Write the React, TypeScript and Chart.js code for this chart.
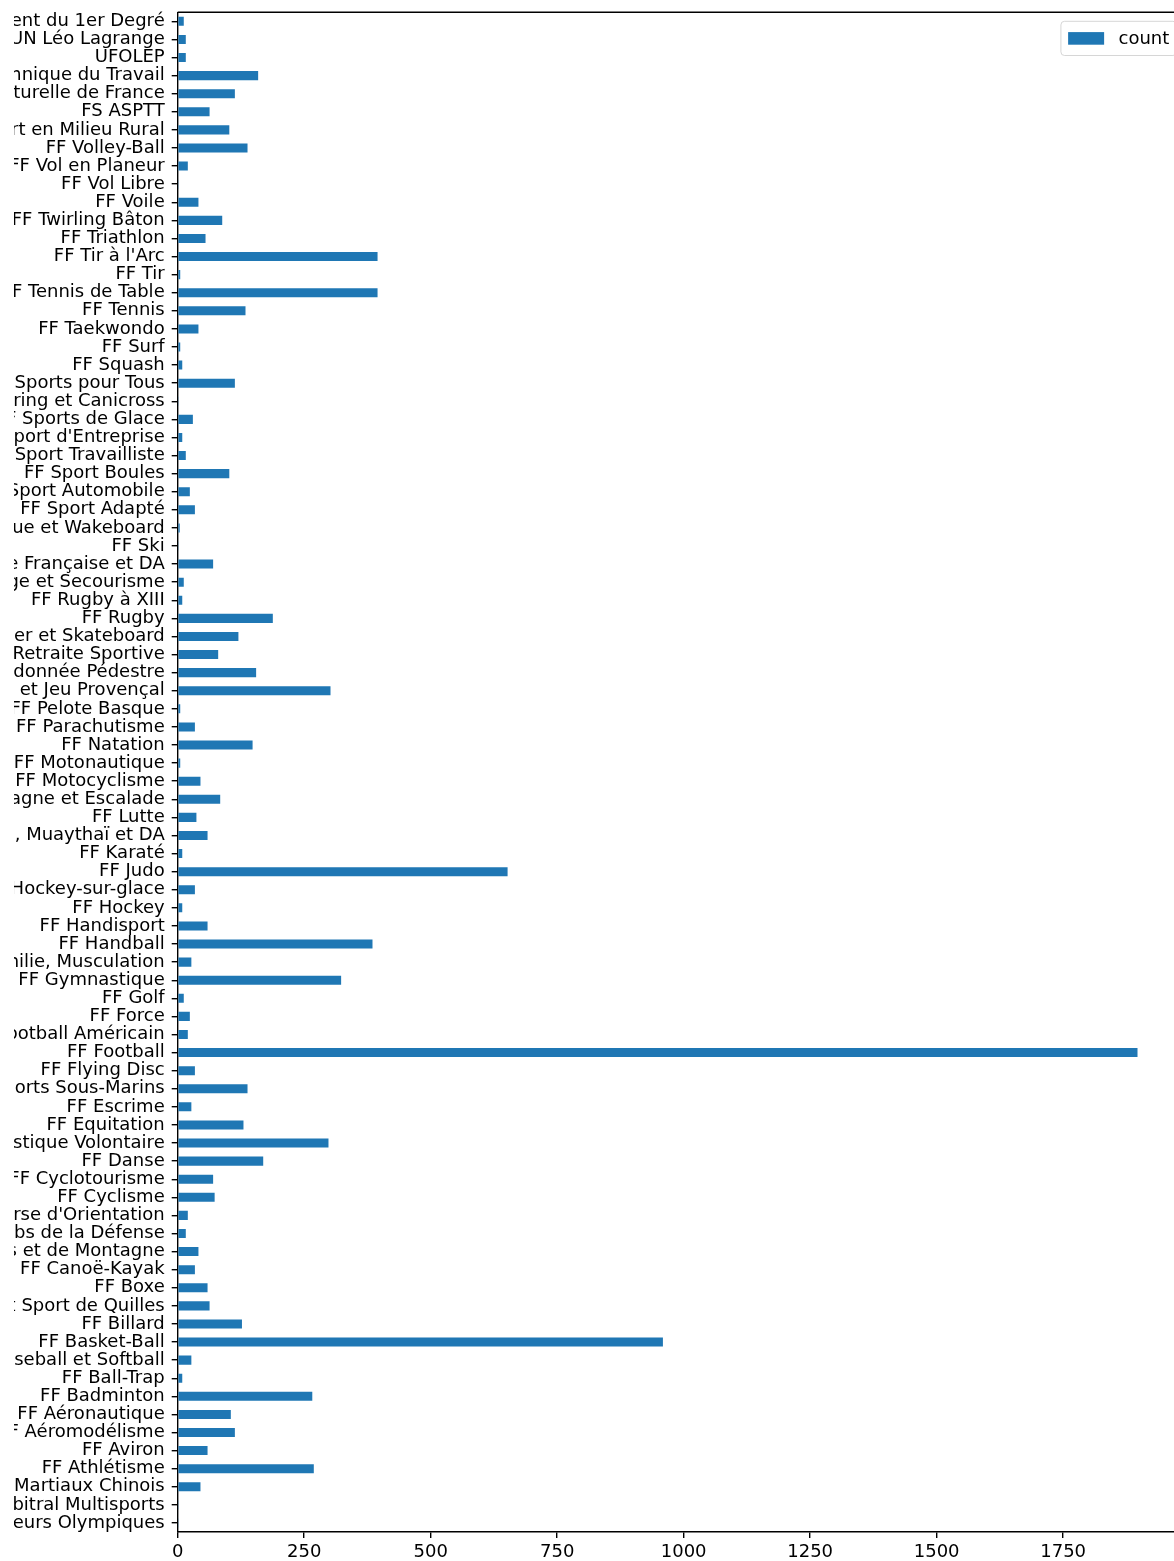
import React, { useEffect, useRef } from "react";
import { Chart, registerables } from "chart.js";

Chart.register(...registerables);

// Categories, listed top to bottom as they appear on the chart
const categories: string[] = [
  "Union Sportive de l'Enseignement du 1er Degré",
  "Fédération Nationale UN Léo Lagrange",
  "UFOLEP",
  "Fédération Sportive et Gymnique du Travail",
  "Fédération Sportive et Culturelle de France",
  "FS ASPTT",
  "FN du Sport en Milieu Rural",
  "FF Volley-Ball",
  "FF Vol en Planeur",
  "FF Vol Libre",
  "FF Voile",
  "FF Twirling Bâton",
  "FF Triathlon",
  "FF Tir à l'Arc",
  "FF Tir",
  "FF Tennis de Table",
  "FF Tennis",
  "FF Taekwondo",
  "FF Surf",
  "FF Squash",
  "FF Sports pour Tous",
  "FF Sports de Traîneau, Ski Joëring et Canicross",
  "FF Sports de Glace",
  "FF du Sport d'Entreprise",
  "FF Sport Travailliste",
  "FF Sport Boules",
  "FF Sport Automobile",
  "FF Sport Adapté",
  "FF Ski Nautique et Wakeboard",
  "FF Ski",
  "FF Savate Boxe Française et DA",
  "FF Sauvetage et Secourisme",
  "FF Rugby à XIII",
  "FF Rugby",
  "FF Roller et Skateboard",
  "FF Retraite Sportive",
  "FF Randonnée Pédestre",
  "FF Pétanque et Jeu Provençal",
  "FF Pelote Basque",
  "FF Parachutisme",
  "FF Natation",
  "FF Motonautique",
  "FF Motocyclisme",
  "FF Montagne et Escalade",
  "FF Lutte",
  "FF Kick Boxing, Muaythaï et DA",
  "FF Karaté",
  "FF Judo",
  "FF Hockey-sur-glace",
  "FF Hockey",
  "FF Handisport",
  "FF Handball",
  "FF Haltérophilie, Musculation",
  "FF Gymnastique",
  "FF Golf",
  "FF Force",
  "FF Football Américain",
  "FF Football",
  "FF Flying Disc",
  "FF Etudes et Sports Sous-Marins",
  "FF Escrime",
  "FF Equitation",
  "FF Education Physique et Gymnastique Volontaire",
  "FF Danse",
  "FF Cyclotourisme",
  "FF Cyclisme",
  "FF Course d'Orientation",
  "FF Clubs de la Défense",
  "FF Clubs Alpins et de Montagne",
  "FF Canoë-Kayak",
  "FF Boxe",
  "FF Bowling et Sport de Quilles",
  "FF Billard",
  "FF Basket-Ball",
  "FF Baseball et Softball",
  "FF Ball-Trap",
  "FF Badminton",
  "FF Aéronautique",
  "FF Aéromodélisme",
  "FF Aviron",
  "FF Athlétisme",
  "FF Arts Martiaux Chinois",
  "Association du Corps Arbitral Multisports",
  "Association des Collectionneurs Olympiques",
];

// Values, same order as categories
const counts: number[] = [
  12, 16, 16, 159, 113, 63, 102, 138, 20, 1,
  41, 88, 55, 395, 5, 395, 134, 41, 5, 9,
  113, 1, 30, 9, 16, 102, 24, 34, 4, 1,
  70, 12, 9, 188, 120, 80, 155, 302, 5, 34,
  148, 5, 45, 84, 37, 59, 9, 652, 34, 9,
  59, 385, 27, 323, 12, 24, 20, 1897, 34, 138,
  27, 130, 298, 169, 70, 73, 20, 16, 41, 34,
  59, 63, 127, 959, 27, 9, 266, 105, 113, 59,
  269, 45, 1, 1,
];

const seriesLabel = "count";
const xTicks: number[] = [0, 250, 500, 750, 1000, 1250, 1500, 1750];

const FONT = "'DejaVu Sans', sans-serif";
const FS = 18;
const CLIP_X = 14; // the picture's visible area starts here

const framePlugin = {
  id: "mplFrame",
  afterDraw(chart: any) {
    const { ctx, chartArea: a } = chart;
    ctx.save();
    // top and right spines
    ctx.strokeStyle = "#000";
    ctx.lineWidth = 1.4;
    ctx.beginPath();
    ctx.moveTo(a.left, a.top);
    ctx.lineTo(a.right, a.top);
    ctx.lineTo(a.right, a.bottom);
    ctx.stroke();

    // legend (matplotlib style, upper right)
    const ds = chart.data.datasets[0];
    ctx.font = `${FS}px ${FONT}`;
    const tw = ctx.measureText(ds.label).width;
    const pad = 0.4 * FS;
    const hl = 2 * FS;
    const htp = 0.8 * FS;
    const hh = 0.7 * FS;
    const axpad = 0.5 * FS;
    const boxW = pad + hl + htp + tw + pad;
    const boxH = 2 * pad + FS * 1.1;
    const right = a.right - axpad;
    const left = right - boxW;
    const top = a.top + axpad;
    const r = 0.2 * FS;
    ctx.beginPath();
    ctx.moveTo(left + r, top);
    ctx.lineTo(left + boxW - r, top);
    ctx.arcTo(left + boxW, top, left + boxW, top + r, r);
    ctx.lineTo(left + boxW, top + boxH - r);
    ctx.arcTo(left + boxW, top + boxH, left + boxW - r, top + boxH, r);
    ctx.lineTo(left + r, top + boxH);
    ctx.arcTo(left, top + boxH, left, top + boxH - r, r);
    ctx.lineTo(left, top + r);
    ctx.arcTo(left, top, left + r, top, r);
    ctx.closePath();
    ctx.fillStyle = "rgba(255,255,255,0.8)";
    ctx.fill();
    ctx.strokeStyle = "rgba(204,204,204,0.8)";
    ctx.lineWidth = 1;
    ctx.stroke();
    const cy = top + boxH / 2;
    ctx.fillStyle = ds.backgroundColor;
    ctx.fillRect(left + pad, cy - hh / 2, hl, hh);
    ctx.fillStyle = "#000";
    ctx.textBaseline = "middle";
    ctx.textAlign = "left";
    ctx.fillText(ds.label, left + pad + hl + htp, cy + 1);
    ctx.restore();
  },
};

export default function App() {
  const ref = useRef<HTMLCanvasElement>(null);

  useEffect(() => {
    const canvas = ref.current;
    if (!canvas) return;
    const xMax = Math.max(...counts) * 1.05;
    const tickFont = { family: FONT, size: FS };
    const chart = new Chart(canvas, {
      type: "bar",
      data: {
        labels: categories,
        datasets: [
          {
            label: seriesLabel,
            data: counts,
            backgroundColor: "#1f77b4",
            borderWidth: 0,
            barPercentage: 0.5,
            categoryPercentage: 1,
          },
        ],
      },
      options: {
        indexAxis: "y",
        responsive: false,
        animation: false,
        devicePixelRatio: 1,
        layout: { padding: { top: 12.3, right: 14.5, bottom: 0, left: 0 } },
        plugins: {
          legend: { display: false },
          tooltip: { enabled: false },
        },
        scales: {
          x: {
            type: "linear",
            position: "bottom",
            min: 0,
            max: xMax,
            afterBuildTicks: (s: any) => {
              s.ticks = xTicks.map((v) => ({ value: v }));
            },
            afterFit: (s: any) => {
              s.height = 29;
              s.paddingLeft = 0;
              s.paddingRight = 0;
              s.paddingTop = 0;
              s.paddingBottom = 0;
            },
            ticks: {
              color: "#000",
              font: tickFont,
              padding: 4,
              maxRotation: 0,
              autoSkip: false,
              callback: (v: any) => String(v),
            },
            grid: {
              drawOnChartArea: false,
              drawTicks: true,
              tickLength: 6,
              tickColor: "#000",
              lineWidth: 1.4,
            },
            border: { display: true, color: "#000", width: 1.4 },
          },
          y: {
            type: "category",
            afterFit: (s: any) => {
              s.width = 177.7;
              s.paddingLeft = 0;
              s.paddingRight = 0;
              s.paddingTop = 0;
              s.paddingBottom = 0;
            },
            ticks: {
              autoSkip: false,
              color: "#000",
              font: tickFont,
              padding: 7,
            },
            grid: {
              offset: false,
              drawOnChartArea: false,
              drawTicks: true,
              tickLength: 6,
              tickColor: "#000",
              lineWidth: 1.4,
            },
            border: { display: true, color: "#000", width: 1.4 },
          },
        },
      } as any,
      plugins: [framePlugin],
    });
    return () => chart.destroy();
  }, []);

  return (
    <div
      style={{
        position: "absolute",
        left: 0,
        top: 0,
        width: 1174,
        height: 1561,
        background: "#fff",
      }}
    >
      <div
        style={{
          position: "absolute",
          left: CLIP_X,
          top: 0,
          width: 1174 - CLIP_X,
          height: 1561,
          overflow: "hidden",
        }}
      >
        <canvas
          ref={ref}
          width={1200}
          height={1561}
          style={{
            width: 1200,
            height: 1561,
            display: "block",
            marginLeft: -CLIP_X,
          }}
        />
      </div>
    </div>
  );
}
